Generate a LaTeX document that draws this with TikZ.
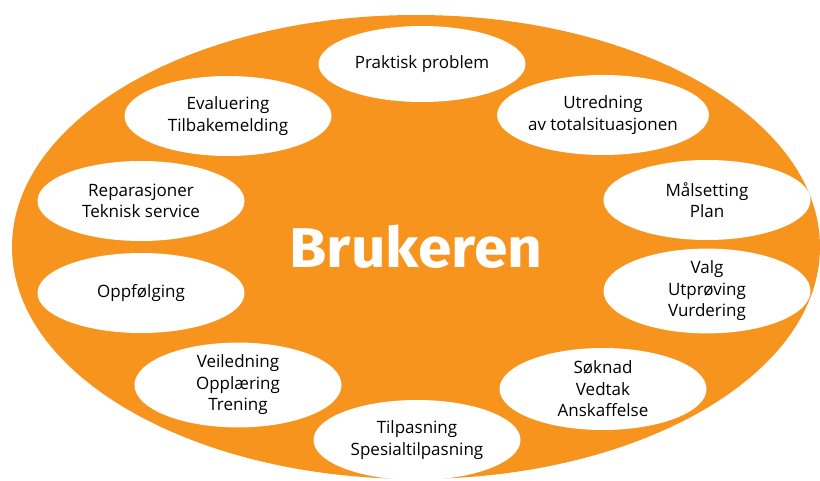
\documentclass[tikz,border=0pt]{standalone}
\usepackage{fontspec}
\setmainfont{Open Sans}
\newfontfamily\bigfont{Fira Sans}
\usetikzlibrary{shapes.geometric}
\definecolor{bgorange}{HTML}{F7941E}
\tikzset{
  bubble/.style={ellipse, fill=white, minimum width=207pt, minimum height=80pt, inner sep=0pt, align=center,
    font=\fontsize{17}{21.5}\selectfont},
}
\begin{document}
\begin{tikzpicture}[x=1pt,y=-1pt]
\useasboundingbox (0,0) rectangle (820,481);
\fill[white] (0,0) rectangle (820,481);
\node[ellipse, fill=bgorange, minimum width=808pt, minimum height=464pt, inner sep=0pt] (main) at (416,247) {};
\node[text=white, font=\bigfont\bfseries\fontsize{56}{60}\selectfont] (title) at (416,247) {\scalebox{1.08}[1]{Brukeren}};
\node[bubble, minimum height=76pt] (b1) at (422,64) {Praktisk problem};
\node[bubble] (b2) at (603,115) {Utredning\\av totalsituasjonen};
\node[bubble] (b3) at (707,200) {Målsetting\\Plan};
\node[bubble, minimum height=78pt] (b4) at (707,291) {Valg\\Utprøving\\Vurdering};
\node[bubble, minimum height=82pt] (b5) at (603,389) {Søknad\\Vedtak\\Anskaffelse};
\node[bubble] (b6) at (417,440) {Tilpasning\\Spesialtilpasning};
\node[bubble] (b7) at (238,385) {Veiledning\\Opplæring\\Trening};
\node[bubble] (b8) at (141,293) {Oppfølging};
\node[bubble] (b9) at (141,201) {Reparasjoner\\Teknisk service};
\node[bubble] (b10) at (228,116) {Evaluering\\Tilbakemelding};
\end{tikzpicture}
\end{document}
